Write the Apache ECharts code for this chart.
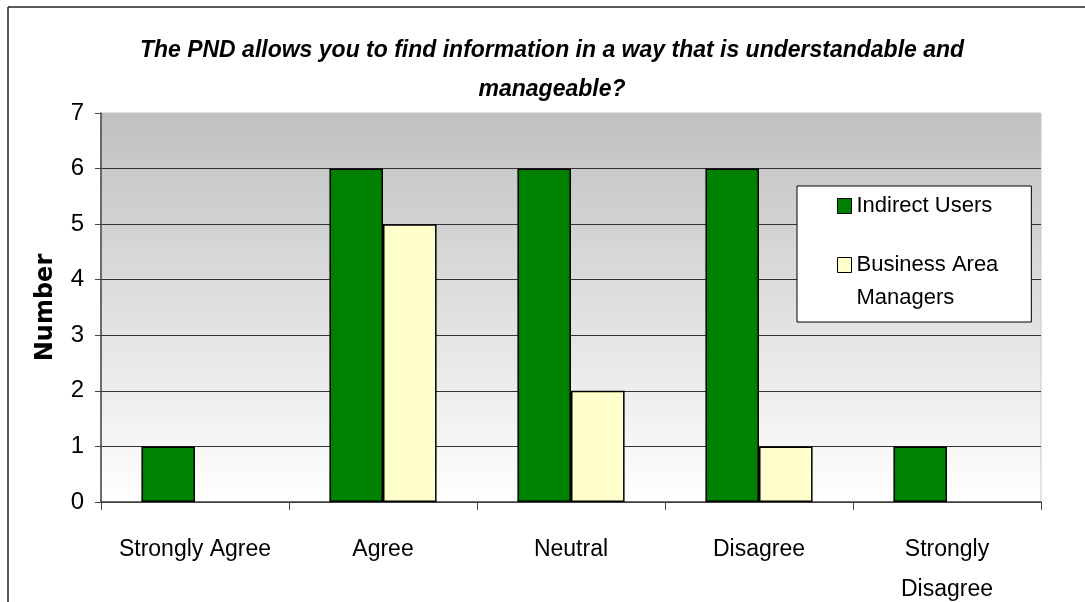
<!DOCTYPE html>
<html>
<head>
<meta charset="utf-8">
<script src="https://cdn.jsdelivr.net/npm/echarts@6/dist/echarts.min.js"></script>
<style>
  html, body { margin: 0; padding: 0; background: #fff; }
  #chart { width: 1085px; height: 602px; }
</style>
</head>
<body>
<div id="chart"></div>
<script>
const categories = ["Strongly Agree", "Agree", "Neutral", "Disagree", "Strongly\nDisagree"];
const indirectUsers = [1, 6, 6, 6, 1];
const areaManagers = [null, 5, 2, 1, null];
const yTicks = { min: 0, max: 7, step: 1 };

const chart = echarts.init(document.getElementById("chart"), null, { renderer: "canvas" });

const barBorder = { borderColor: "#000", borderWidth: 1.5 };

// legend text: 2nd entry wraps, the blank first row keeps the icon on "Business Area"
function legendText(name) {
  if (name === "Business Area Managers") return "{sp| }\n{t|Business Area}\n{t|Managers}";
  return "{t|" + name + "}";
}

chart.setOption({
  animation: false,
  title: {
    text: "The PND allows you to find information in a way that is understandable and\nmanageable?",
    left: 547,
    top: 26,
    textAlign: "center",
    textStyle: {
      fontFamily: "Liberation Sans",
      fontSize: 23,
      fontWeight: "bold",
      fontStyle: "italic",
      color: "#000",
      lineHeight: 39,
    },
  },
  legend: {
    orient: "vertical",
    left: 797,
    top: 186,
    padding: [3.5, 33, 7.5, 40],
    itemGap: -7,
    itemWidth: 14,
    itemHeight: 15,
    itemStyle: { borderColor: "#000", borderWidth: 1 },
    backgroundColor: "#fff",
    borderColor: "#000",
    borderWidth: 1,
    borderRadius: 0,
    selectedMode: false,
    icon: "rect",
    textStyle: {
      fontFamily: "Liberation Sans",
      fontSize: 22,
      color: "#000",
      rich: {
        t: { fontFamily: "Liberation Sans", fontSize: 22, color: "#000", lineHeight: 33, height: 33 },
        sp: { fontSize: 22, lineHeight: 33, height: 33 },
      },
    },
    formatter: legendText,
    data: ["Indirect Users", "Business Area Managers"],
  },
  graphic: [
    { type: "line", shape: { x1: 8, y1: 7, x2: 1085, y2: 7 }, style: { stroke: "#222", lineWidth: 1.5 } },
    { type: "line", shape: { x1: 8, y1: 7, x2: 8, y2: 602 }, style: { stroke: "#222", lineWidth: 1.5 } },
  ],
  grid: {
    left: 101,
    top: 113,
    right: 44,
    bottom: 100,
    outerBoundsMode: "none",
    containLabel: false,
    show: true,
    borderColor: "#c8c8c8",
    borderWidth: 1,
    backgroundColor: {
      type: "linear", x: 0, y: 0, x2: 0, y2: 1,
      colorStops: [
        { offset: 0, color: "#c0c0c0" },
        { offset: 1, color: "#ffffff" },
      ],
    },
  },
  xAxis: {
    type: "category",
    data: categories,
    axisLine: { lineStyle: { color: "#444", width: 1.5 } },
    axisTick: { show: true, length: 8, lineStyle: { color: "#444", width: 1 } },
    axisLabel: {
      interval: 0,
      margin: 28,
      fontFamily: "Liberation Sans",
      fontSize: 23,
      color: "#000",
      lineHeight: 40,
    },
  },
  yAxis: {
    type: "value",
    min: yTicks.min,
    max: yTicks.max,
    interval: yTicks.step,
    name: "Number",
    nameLocation: "middle",
    nameGap: 43,
    nameRotate: 90,
    nameTextStyle: {
      fontFamily: "DejaVu Sans",
      fontWeight: "bold",
      fontSize: 24,
      color: "#000",
    },
    axisLine: { show: true, lineStyle: { color: "#444", width: 1.5 } },
    axisTick: { show: true, length: 6, lineStyle: { color: "#444", width: 1 } },
    axisLabel: {
      margin: 17,
      fontFamily: "Liberation Sans",
      fontSize: 24,
      color: "#000",
    },
    splitLine: { show: true, showMaxLine: false, lineStyle: { color: "#333", width: 1.2 } },
  },
  series: [
    {
      name: "Indirect Users",
      type: "bar",
      data: indirectUsers,
      barGap: "0%",
      barCategoryGap: "43%",
      itemStyle: Object.assign({ color: "#008000" }, barBorder),
    },
    {
      name: "Business Area Managers",
      type: "bar",
      data: areaManagers,
      barGap: "0%",
      barCategoryGap: "43%",
      itemStyle: Object.assign({ color: "#ffffcc" }, barBorder),
    },
  ],
});
</script>
</body>
</html>
